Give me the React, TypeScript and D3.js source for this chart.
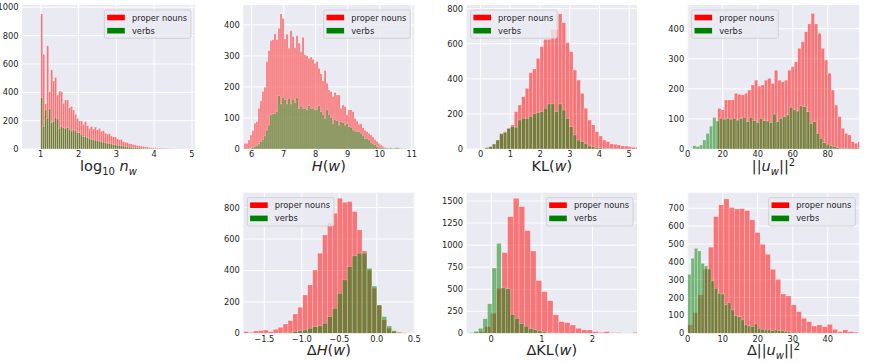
import React from "react";
import * as d3 from "d3";

// ---------- DATA ----------
// Panel 1: log10 n_w
const p1Start = 1.0;
const p1Width = 0.0527;
const p1Red = [953, 668, 318, 727, 405, 558, 480, 504, 381, 409, 405, 322, 346, 346, 292, 299, 275, 245, 216, 198, 198, 174, 193, 165, 146, 158, 141, 155, 135, 145, 125, 130, 112, 105, 108, 92, 85, 86, 72, 66, 68, 52, 48, 45, 38, 36, 30, 28, 25, 22, 20, 17, 15, 14, 12, 10, 9, 8, 7, 6, 5, 5, 4, 3, 3, 2, 2, 2, 1, 1, 1, 1, 0, 1, 1];
const p1Green = [362, 158, 275, 216, 282, 186, 193, 221, 212, 146, 158, 150, 146, 150, 139, 127, 134, 127, 115, 115, 99, 87, 87, 80, 75, 68, 64, 62, 58, 55, 50, 48, 45, 40, 38, 35, 32, 30, 27, 24, 22, 20, 17, 15, 13, 12, 10, 9, 8, 7, 6, 5, 4, 4, 3, 3, 2, 2, 2, 1, 1, 1, 1, 1, 0, 0, 0, 0, 0, 0, 0, 0, 0, 0, 0];

// Panel 2: H(w)
const p2Start = 5.76;
const p2Width = 0.0625;
const p2Red = [18, 18, 29, 45, 59, 83, 88, 131, 155, 185, 199, 282, 317, 349, 352, 371, 352, 389, 435, 421, 355, 370, 325, 381, 362, 327, 365, 341, 314, 360, 303, 300, 292, 296, 289, 276, 282, 260, 242, 220, 253, 212, 190, 185, 169, 182, 174, 174, 131, 142, 137, 110, 126, 126, 120, 99, 90, 80, 81, 68, 60, 56, 50, 45, 38, 30, 24, 18, 13, 8, 5, 3, 2, 1];
const p2Green = [0, 0, 1, 2, 5, 8, 10, 16, 24, 31, 42, 61, 77, 110, 113, 115, 120, 172, 145, 165, 160, 145, 163, 145, 160, 150, 165, 130, 138, 131, 131, 126, 139, 131, 131, 126, 128, 139, 120, 110, 99, 126, 110, 102, 81, 94, 91, 77, 88, 85, 77, 81, 72, 70, 61, 58, 56, 55, 51, 42, 34, 34, 29, 20, 16, 13, 8, 5, 4, 3, 2, 3, 2, 4, 2, 3, 5, 3, 2, 2, 1, 1, 1];

// Panel 3: KL(w)
const p3Start = 0.145;
const p3Width = 0.1235;
const p3Red = [4, 13, 27, 51, 89, 99, 118, 137, 213, 251, 298, 346, 435, 456, 517, 584, 625, 625, 679, 682, 770, 720, 606, 555, 450, 393, 317, 232, 165, 137, 99, 74, 51, 42, 29, 27, 23, 17, 17, 13, 10, 8];
const p3Green = [8, 13, 29, 51, 86, 93, 118, 127, 124, 165, 175, 175, 184, 200, 207, 213, 232, 257, 257, 213, 257, 222, 175, 127, 80, 51, 42, 29, 17, 13, 8, 6, 4, 2, 2, 1, 1, 0, 0, 0, 0, 0];

// Panel 4: ||u_w||^2
const p4RedStart = 17.14;
const p4GreenStart = 2.86;
const p4Width = 1.905;
const p4Red = [135, 130, 163, 163, 163, 185, 182, 180, 185, 196, 213, 229, 209, 213, 229, 235, 218, 262, 229, 224, 229, 262, 274, 290, 335, 357, 390, 416, 451, 416, 385, 335, 296, 252, 196, 146, 108, 69, 52, 47, 24, 19, 24];
const p4Green = [11, 8, 13, 30, 52, 76, 105, 93, 102, 99, 102, 99, 102, 96, 102, 105, 91, 105, 94, 88, 102, 94, 93, 88, 116, 91, 102, 107, 113, 139, 130, 126, 143, 141, 124, 85, 91, 52, 35, 21, 16, 10, 8, 4, 2, 2, 2];

// Panel 5: ΔH(w)
const p5Start = -1.776;
const p5Width = 0.0658;
const p5Red = [11, 6, 15, 17, 21, 11, 25, 38, 59, 81, 123, 166, 244, 308, 403, 510, 626, 701, 764, 860, 834, 839, 775, 658, 524, 403, 287, 180, 85, 32, 11, 6, 4];
const p5Green = [0, 0, 0, 0, 0, 0, 0, 0, 2, 6, 11, 15, 21, 32, 42, 47, 64, 106, 159, 255, 340, 425, 493, 510, 510, 414, 301, 180, 106, 47, 17, 6, 2];

// Panel 6: ΔKL(w)
const p6RedStart = -0.46;
const p6RedWidth = 0.112;
const p6GreenStart = -0.434;
const p6GreenWidth = 0.09;
const p6Red = [2, 8, 19, 76, 227, 510, 914, 1322, 1530, 1435, 1164, 933, 597, 472, 370, 208, 132, 121, 94, 57, 38, 38, 19, 11, 19, 8, 8, 4, 4, 11];
const p6Green = [8, 22, 57, 165, 335, 740, 1020, 515, 505, 215, 170, 110, 80, 55, 40, 25, 15, 8, 5, 3, 2];

// Panel 7: Δ||u_w||^2
const p7RedWidth = 1.476;
const p7GreenWidth = 0.95;
const p7Red = [47, 116, 215, 360, 482, 653, 719, 752, 704, 696, 698, 687, 635, 564, 498, 442, 358, 302, 220, 209, 159, 121, 84, 65, 41, 47, 37, 50, 22, 9, 19, 9, 6];
const p7Green = [330, 420, 476, 461, 392, 377, 360, 293, 252, 224, 220, 159, 172, 131, 99, 93, 75, 47, 41, 37, 52, 28, 22, 22, 19, 15, 19, 15, 13, 11, 8, 6, 6, 5, 4, 3, 3, 2, 2, 1, 1];

// Ticks
const p1XTicks = [1, 2, 3, 4, 5];
const p1YTicks = [0, 200, 400, 600, 800, 1000];
const p2XTicks = [6, 7, 8, 9, 10, 11];
const p2YTicks = [0, 100, 200, 300, 400];
const p3XTicks = [0, 1, 2, 3, 4, 5];
const p3YTicks = [0, 200, 400, 600, 800];
const p4XTicks = [0, 20, 40, 60, 80];
const p4YTicks = [0, 100, 200, 300, 400];
const p5XTicks = [-1.5, -1.0, -0.5, 0.0, 0.5];
const p5YTicks = [0, 200, 400, 600, 800];
const p6XTicks = [0, 1, 2];
const p6YTicks = [0, 250, 500, 750, 1000, 1250, 1500];
const p7XTicks = [0, 10, 20, 30, 40];
const p7YTicks = [0, 100, 200, 300, 400, 500, 600, 700];

const seriesNames = ["proper nouns", "verbs"];

// ---------- STYLE / LAYOUT ----------
const FONT = "'DejaVu Sans', sans-serif";
const BG = "#EAEAF2";
const TEXT = "#262626";
const RED = "#ff0000";
const GREEN = "#008000";
const LABEL_SIZE = 14.5;
const SMALL = "10px";
const SUB_DY = 4;
const SUP_DY = -5;

type Bins = { start: number; width: number; counts: number[] };
type Spec = {
  id: string;
  left: number; right: number; top: number; bottom: number;
  xDomain: [number, number]; yDomain: [number, number];
  xTicks: number[]; yTicks: number[];
  xFormat: (v: number) => string;
  red: Bins; green: Bins;
  legend: "left" | "right";
  label: React.ReactNode;
};

const intFmt = d3.format("d");
const oneFmt = d3.format(".1f");

const L1 = (
  <>
    <tspan>log</tspan>
    <tspan dy={SUB_DY} fontSize={SMALL}>10</tspan>
    <tspan dy={-SUB_DY}> </tspan>
    <tspan fontStyle="italic">n</tspan>
    <tspan dy={SUB_DY} fontSize={SMALL} fontStyle="italic">w</tspan>
  </>
);
const L2 = (
  <>
    <tspan fontStyle="italic">H</tspan><tspan>(</tspan><tspan fontStyle="italic">w</tspan><tspan>)</tspan>
  </>
);
const L3 = (
  <>
    <tspan>KL(</tspan><tspan fontStyle="italic">w</tspan><tspan>)</tspan>
  </>
);
const uwParts = (prefix: string) => (
  <>
    <tspan>{prefix + "||"}</tspan>
    <tspan fontStyle="italic">u</tspan>
    <tspan dy={SUB_DY} fontSize={SMALL} fontStyle="italic">w</tspan>
    <tspan dy={-SUB_DY}>||</tspan>
    <tspan dy={SUP_DY} fontSize={SMALL}>2</tspan>
  </>
);
const L4 = uwParts("");
const L5 = (
  <>
    <tspan>Δ</tspan><tspan fontStyle="italic">H</tspan><tspan>(</tspan><tspan fontStyle="italic">w</tspan><tspan>)</tspan>
  </>
);
const L6 = (
  <>
    <tspan>ΔKL(</tspan><tspan fontStyle="italic">w</tspan><tspan>)</tspan>
  </>
);
const L7 = uwParts("Δ");

const R1 = { top: 5, bottom: 149 };
const R2 = { top: 192.7, bottom: 333.3 };
const C1 = { left: 22, right: 195 };
const C2 = { left: 243.3, right: 414.3 };
const C3 = { left: 466.6, right: 637 };
const C4 = { left: 687.7, right: 859.3 };

const specs: Spec[] = [
  {
    id: "p1", ...C1, ...R1, xDomain: [0.505, 5.08], yDomain: [0, 1016],
    xTicks: p1XTicks, yTicks: p1YTicks, xFormat: intFmt,
    red: { start: p1Start, width: p1Width, counts: p1Red },
    green: { start: p1Start, width: p1Width, counts: p1Green },
    legend: "right", label: L1,
  },
  {
    id: "p2", ...C2, ...R1, xDomain: [5.7375, 11.08], yDomain: [0, 464],
    xTicks: p2XTicks, yTicks: p2YTicks, xFormat: intFmt,
    red: { start: p2Start, width: p2Width, counts: p2Red },
    green: { start: p2Start, width: p2Width, counts: p2Green },
    legend: "right", label: L2,
  },
  {
    id: "p3", ...C3, ...R1, xDomain: [-0.471, 5.262], yDomain: [0, 821],
    xTicks: p3XTicks, yTicks: p3YTicks, xFormat: intFmt,
    red: { start: p3Start, width: p3Width, counts: p3Red },
    green: { start: p3Start, width: p3Width, counts: p3Green },
    legend: "left", label: L3,
  },
  {
    id: "p4", ...C4, ...R1, xDomain: [0, 98], yDomain: [0, 479],
    xTicks: p4XTicks, yTicks: p4YTicks, xFormat: intFmt,
    red: { start: p4RedStart, width: p4Width, counts: p4Red },
    green: { start: p4GreenStart, width: p4Width, counts: p4Green },
    legend: "left", label: L4,
  },
  {
    id: "p5", ...C2, ...R2, xDomain: [-1.78, 0.5], yDomain: [0, 895],
    xTicks: p5XTicks, yTicks: p5YTicks, xFormat: oneFmt,
    red: { start: p5Start, width: p5Width, counts: p5Red },
    green: { start: p5Start, width: p5Width, counts: p5Green },
    legend: "left", label: L5,
  },
  {
    id: "p6", ...C3, ...R2, xDomain: [-0.487, 2.88], yDomain: [0, 1594],
    xTicks: p6XTicks, yTicks: p6YTicks, xFormat: intFmt,
    red: { start: p6RedStart, width: p6RedWidth, counts: p6Red },
    green: { start: p6GreenStart, width: p6GreenWidth, counts: p6Green },
    legend: "right", label: L6,
  },
  {
    id: "p7", ...C4, ...R2, xDomain: [0, 49], yDomain: [0, 787],
    xTicks: p7XTicks, yTicks: p7YTicks, xFormat: intFmt,
    red: { start: 0, width: p7RedWidth, counts: p7Red },
    green: { start: 0, width: p7GreenWidth, counts: p7Green },
    legend: "right", label: L7,
  },
];

function Panel({ s }: { s: Spec }) {
  const x = d3.scaleLinear().domain(s.xDomain).range([s.left, s.right]);
  const y = d3.scaleLinear().domain(s.yDomain).range([s.bottom, s.top]);
  const clipId = `clip-${s.id}`;

  const bars = (b: Bins, color: string) =>
    b.counts.map((c, i) => {
      if (c <= 0) return null;
      const x0 = x(b.start + i * b.width);
      const x1 = x(b.start + (i + 1) * b.width);
      return (
        <rect
          key={i}
          x={x0}
          y={y(c)}
          width={x1 - x0}
          height={y(0) - y(c)}
          fill={color}
          fillOpacity={0.5}
          stroke="#ffffff"
          strokeOpacity={0.45}
          strokeWidth={0.5}
        />
      );
    });

  const boxW = 86.6;
  const boxH = 28.3;
  const bx = s.legend === "right" ? s.right - 4 - boxW : s.left + 4;
  const by = s.top + 5;

  const xTickVis = s.xTicks.filter((t) => t >= s.xDomain[0] - 1e-9 && t <= s.xDomain[1] + 1e-9);

  return (
    <g>
      <defs>
        <clipPath id={clipId}>
          <rect x={s.left} y={s.top} width={s.right - s.left} height={s.bottom - s.top} />
        </clipPath>
      </defs>
      <rect x={s.left} y={s.top} width={s.right - s.left} height={s.bottom - s.top} fill={BG} />
      <g clipPath={`url(#${clipId})`}>
        {xTickVis.map((t) => (
          <line key={`gx${t}`} x1={x(t)} x2={x(t)} y1={s.top} y2={s.bottom} stroke="#fff" strokeWidth={1} />
        ))}
        {s.yTicks.map((t) => (
          <line key={`gy${t}`} x1={s.left} x2={s.right} y1={y(t)} y2={y(t)} stroke="#fff" strokeWidth={1} />
        ))}
        {bars(s.red, RED)}
        {bars(s.green, GREEN)}
      </g>
      <g fontFamily={FONT} fontSize="8.3px" fill={TEXT}>
        {xTickVis.map((t) => (
          <text key={`tx${t}`} x={x(t)} y={s.bottom + 5.4} textAnchor="middle" dominantBaseline="central">
            {s.xFormat(t)}
          </text>
        ))}
        {s.yTicks.map((t) => (
          <text key={`ty${t}`} x={s.left - 3.5} y={y(t)} textAnchor="end" dominantBaseline="central">
            {intFmt(t)}
          </text>
        ))}
      </g>
      <text
        x={(s.left + s.right) / 2}
        y={s.bottom + 22}
        textAnchor="middle"
        fontFamily={FONT}
        fontSize={`${LABEL_SIZE}px`}
        fill={TEXT}
      >
        {s.label}
      </text>
      <g>
        <rect x={bx} y={by} width={boxW} height={boxH} rx={2} fill={BG} fillOpacity={0.8} stroke="#cccccc" strokeWidth={0.8} />
        {[RED, GREEN].map((c, i) => (
          <g key={c}>
            <rect x={bx + 2.8} y={by + 7.5 + i * 13.2 - 2.8} width={17.6} height={5.6} fill={c} />
            <text
              x={bx + 27.5}
              y={by + 7.5 + i * 13.2}
              dominantBaseline="central"
              fontFamily={FONT}
              fontSize="8.3px"
              fill={TEXT}
            >
              {seriesNames[i]}
            </text>
          </g>
        ))}
      </g>
    </g>
  );
}

export default function App() {
  return (
    <svg
      width={872}
      height={363}
      viewBox="0 0 872 363"
      style={{ position: "absolute", left: 0, top: 0, background: "#ffffff" }}
    >
      <rect x={0} y={0} width={872} height={363} fill="#ffffff" />
      {specs.map((s) => (
        <Panel key={s.id} s={s} />
      ))}
    </svg>
  );
}
